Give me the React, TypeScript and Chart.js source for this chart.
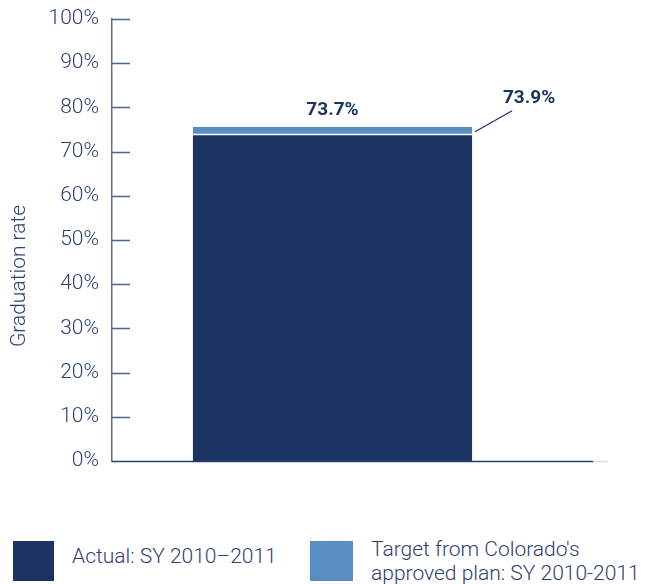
import React, { useEffect, useRef } from "react";
import { Chart, registerables } from "chart.js";

Chart.register(...registerables);

const categories = ["SY 2010–2011"];
const actualValues = [73.7];
const targetValues = [73.9];
const yTicks = [0, 10, 20, 30, 40, 50, 60, 70, 80, 90, 100];
const yTitle = "Graduation rate";
const legendLabels = ["Actual: SY 2010–2011", "Target from Colorado's approved plan: SY 2010-2011"];

const DARK = "#1c3461";
const LIGHT = "#5a8ec2";
const TEXT = "#2e4270";
const FONT = "Roboto, 'Liberation Sans', sans-serif";

const overlayPlugin = {
  id: "overlay",
  afterDatasetsDraw(chart: any) {
    const { ctx, chartArea, scales } = chart;
    const y = scales.y;
    ctx.save();
    // inward tick marks on the y axis
    ctx.strokeStyle = "#4f6488";
    ctx.lineWidth = 1.5;
    y.ticks.forEach((t: any) => {
      if (t.value === 0) return;
      const py = Math.round(y.getPixelForValue(t.value)) + 0.5;
      ctx.beginPath();
      ctx.moveTo(chartArea.left, py);
      ctx.lineTo(chartArea.left + 18, py);
      ctx.stroke();
    });
    // baseline
    const by = Math.round(y.getPixelForValue(0)) + 0.5;
    ctx.strokeStyle = "#2b3d63";
    ctx.lineWidth = 1.5;
    ctx.beginPath();
    ctx.moveTo(chartArea.left, by);
    ctx.lineTo(chartArea.right + 40, by);
    ctx.stroke();
    ctx.strokeStyle = "#dddddd";
    ctx.beginPath();
    ctx.moveTo(chartArea.right + 40, by);
    ctx.lineTo(chartArea.right + 55, by);
    ctx.stroke();

    // axis title
    ctx.save();
    ctx.translate(20, (chartArea.top + chartArea.bottom) / 2 + 36);
    ctx.rotate(-Math.PI / 2);
    ctx.fillStyle = TEXT;
    ctx.font = `300 21px ${FONT}`;
    ctx.textAlign = "center";
    ctx.textBaseline = "middle";
    ctx.fillText(yTitle, 0, 0);
    ctx.restore();

    // labels
    const tMeta = chart.getDatasetMeta(1);
    const bar = tMeta.data[0];
    if (bar) {
      const props = bar.getProps(["x", "y", "base", "width"], true);
      const top = Math.min(props.y, props.base);
      const right = props.x + props.width / 2;
      ctx.fillStyle = DARK;
      ctx.font = `bold 19px ${FONT}`;
      ctx.textAlign = "center";
      ctx.textBaseline = "middle";
      ctx.fillText(`${actualValues[0].toFixed(1)}%`, props.x, top - 16);
      ctx.fillText(`${targetValues[0].toFixed(1)}%`, right + 57, top - 28);
      ctx.strokeStyle = DARK;
      ctx.lineWidth = 1.2;
      ctx.beginPath();
      ctx.moveTo(right + 3, top + 5);
      ctx.lineTo(right + 40, top - 16);
      ctx.stroke();
    }
    ctx.restore();
  },
};

export default function App() {
  const ref = useRef<HTMLCanvasElement | null>(null);
  useEffect(() => {
    if (!ref.current) return;
    const chart = new Chart(ref.current, {
      type: "bar",
      data: {
        labels: categories,
        datasets: [
          {
            label: legendLabels[0],
            data: actualValues,
            backgroundColor: DARK,
            borderWidth: 0,
            barPercentage: 0.633,
            categoryPercentage: 1,
          },
          {
            label: legendLabels[1],
            data: actualValues.map((a, i) => [a, targetValues[i]]) as any,
            backgroundColor: LIGHT,
            borderColor: "#ffffff",
            borderWidth: { bottom: 1.5, top: 0, left: 0, right: 0 } as any,
            borderSkipped: false,
            minBarLength: 8.5,
            barPercentage: 0.633,
            categoryPercentage: 1,
          },
        ],
      },
      options: {
        animation: false,
        responsive: true,
        maintainAspectRatio: false,
        layout: { padding: { top: 19, right: 94, bottom: 39, left: 0 } },
        plugins: { legend: { display: false }, tooltip: { enabled: false } },
        scales: {
          x: {
            stacked: true,
            ticks: { display: false },
            grid: { display: false, drawTicks: false },
            border: { display: false },
          },
          y: {
            stacked: false,
            min: 0,
            max: 100,
            afterBuildTicks: (s: any) => {
              s.ticks = yTicks.map((v) => ({ value: v }));
            },
            afterFit: (s: any) => {
              s.width = 112;
              s.paddingTop = 0;
              s.paddingBottom = 0;
            },
            ticks: {
              callback: (v: any) => `${v}%`,
              color: TEXT,
              font: { family: FONT, size: 21, weight: "300" as any },
              padding: 13,
            },
            grid: { display: false, drawTicks: false },
            border: { display: true, color: "#5b6e8e", width: 1.5 },
          },
        },
      },
      plugins: [overlayPlugin],
    });
    return () => chart.destroy();
  }, []);

  const legendText: React.CSSProperties = {
    fontFamily: FONT,
    fontWeight: 300,
    fontSize: 21,
    color: TEXT,
    lineHeight: "24px",
  };

  return (
    <div style={{ position: "absolute", left: 0, top: 0, width: 647, height: 584, background: "#fff" }}>
      <div style={{ position: "absolute", left: 0, top: 0, width: 647, height: 500 }}>
        <canvas ref={ref} />
      </div>
      <div style={{ position: "absolute", left: 13, top: 541, width: 41, height: 40, background: DARK }} />
      <div style={{ ...legendText, position: "absolute", left: 72, top: 544, whiteSpace: "nowrap" }}>
        {legendLabels[0]}
      </div>
      <div style={{ position: "absolute", left: 310, top: 541, width: 43, height: 40, background: LIGHT }} />
      <div style={{ ...legendText, position: "absolute", left: 371, top: 537, width: 290, whiteSpace: "nowrap" }}>
        Target from Colorado's
        <br />
        approved plan: SY 2010-2011
      </div>
    </div>
  );
}
